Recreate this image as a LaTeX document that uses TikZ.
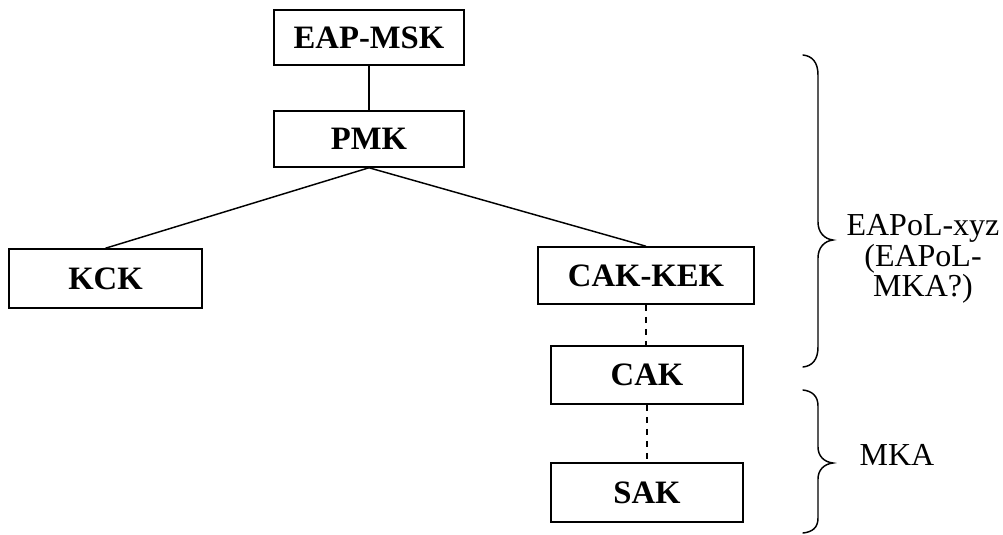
\documentclass[tikz,border=0pt]{standalone}
\usepackage{fontspec}
\setmainfont{Liberation Serif}
\newcommand{\keylabel}[1]{\raisebox{-1.5pt}{#1}}
\begin{document}
\begin{tikzpicture}[x=0.75pt,y=-0.75pt,
  keybox/.style={draw, line width=1.15pt, inner sep=0pt,
    font=\fontsize{24.5}{28}\selectfont\bfseries},
  link/.style={line width=1.1pt},
  dashlink/.style={line width=1.1pt, dash pattern=on 5pt off 4pt},
  bracepath/.style={line width=1.1pt, line cap=round},
  note/.style={align=center, inner sep=0pt,
    font=\fontsize{24}{21.75}\selectfont}]
  % canvas
  \useasboundingbox (0,0) rectangle (1003,535);

  % key hierarchy
  \node[keybox, minimum width=142.5pt, minimum height=41.25pt] (msk)    at (369,37.5)    {\keylabel{EAP-MSK}};
  \node[keybox, minimum width=142.5pt, minimum height=42pt]    (pmk)    at (369,139)     {\keylabel{PMK}};
  \node[keybox, minimum width=144.75pt, minimum height=44.25pt] (kck)   at (105.5,278.5) {\keylabel{KCK}};
  \node[keybox, minimum width=162pt, minimum height=42.75pt]   (cakkek) at (646,275.5)   {\keylabel{CAK-KEK}};
  \node[keybox, minimum width=144pt, minimum height=43.5pt]    (cak)    at (647,375)     {\keylabel{CAK}};
  \node[keybox, minimum width=144pt, minimum height=44.25pt]   (sak)    at (647,492.5)   {\keylabel{SAK}};

  % derivations
  \draw[link] (msk) -- (pmk);
  \draw[link] (pmk.south) -- (kck.north);
  \draw[link] (pmk.south) -- (cakkek.north);
  \draw[dashlink] (cakkek.south) -- (cakkek.south |- cak.north);
  \draw[dashlink] (cak.south) -- (cak.south |- sak.north);

  % protocol braces
  \draw[bracepath] (803,55) .. controls (812,56) and (818,62) .. (818,75)
    -- (818,222) .. controls (818,232) and (824,239) .. (833,240)
    .. controls (824,241) and (818,248) .. (818,258)
    -- (818,347) .. controls (818,360) and (812,366) .. (803,367);
  \draw[bracepath] (803,390) .. controls (812,391) and (818,396) .. (818,406)
    -- (818,447) .. controls (818,456) and (824,462) .. (833,463)
    .. controls (824,464) and (818,470) .. (818,479)
    -- (818,518) .. controls (818,528) and (812,532) .. (803,533);

  % protocol labels
  \node[note] (xyz) at (923,259) {EAPoL-xyz\\(EAPoL-\\MKA?)};
  \node[note] (mka) at (897,455) {MKA};
\end{tikzpicture}
\end{document}
